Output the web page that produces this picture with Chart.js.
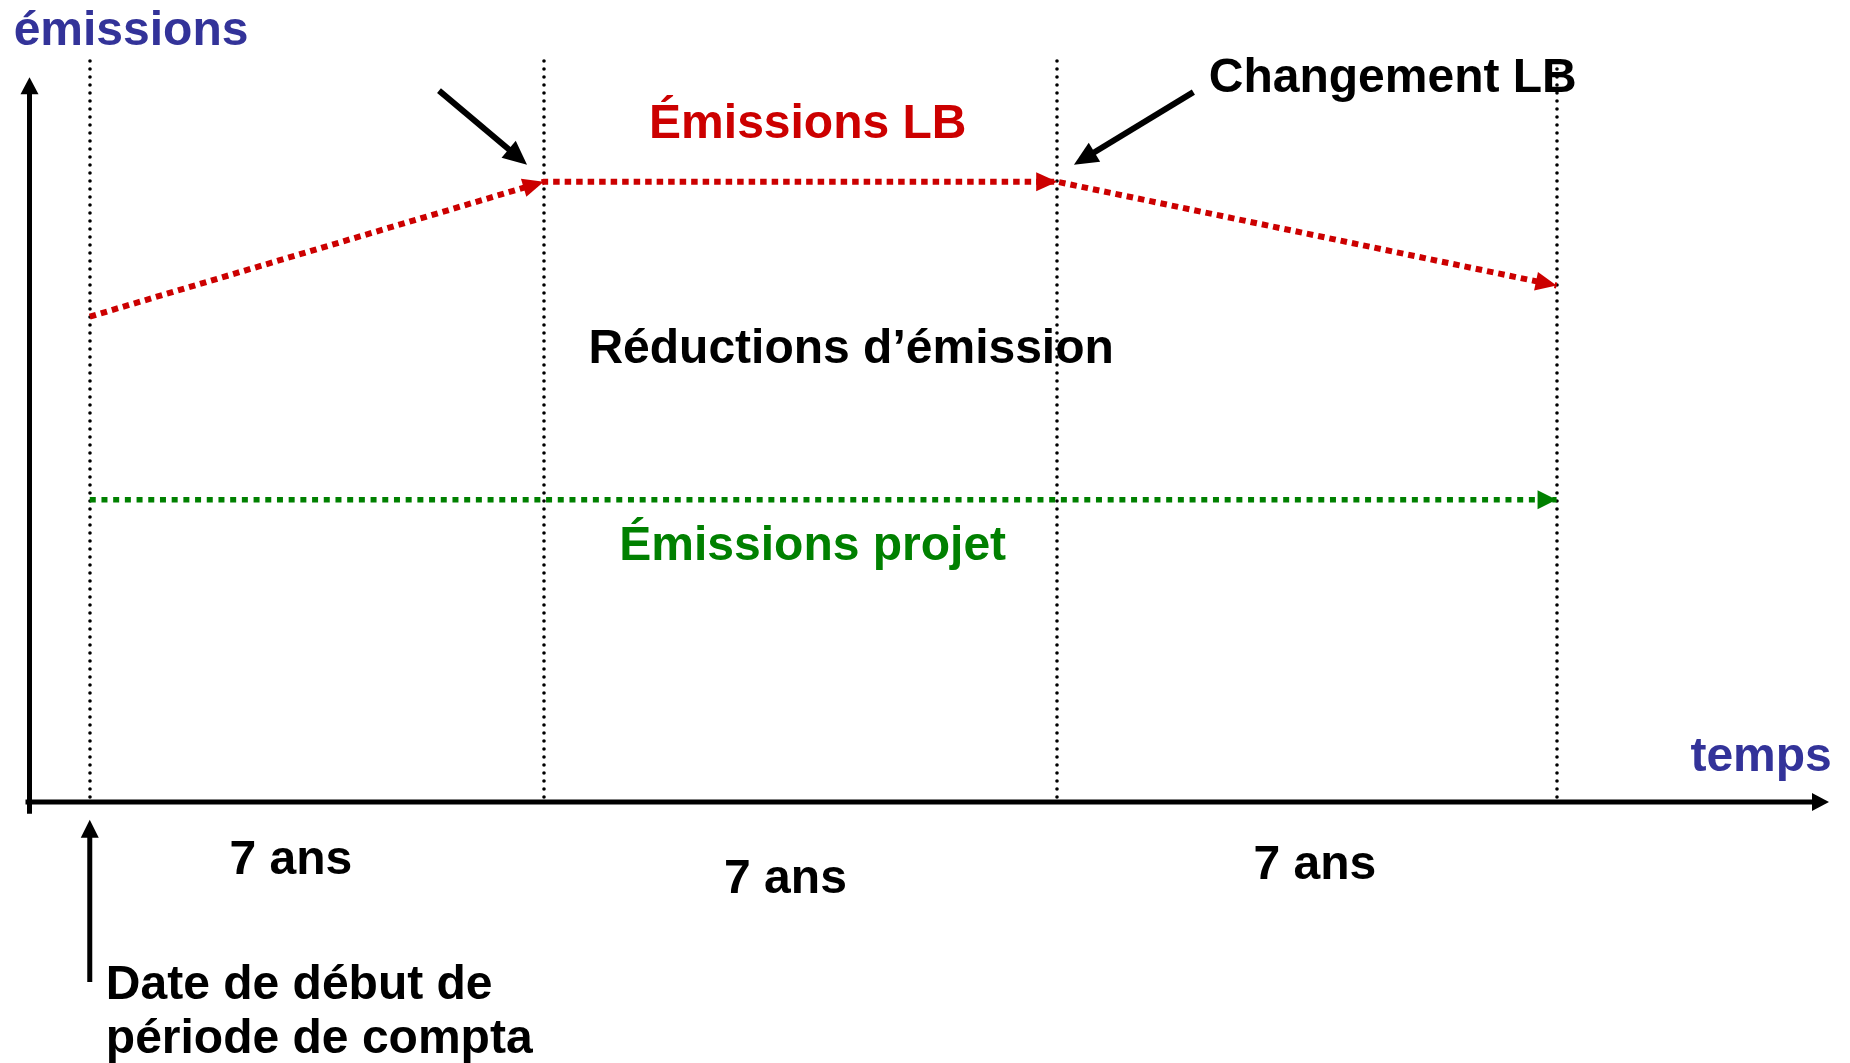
<!DOCTYPE html>
<html lang="fr">
<head>
<meta charset="utf-8">
<title>Émissions LB / projet</title>
<script src="https://cdn.jsdelivr.net/npm/chart.js@4.4.1/dist/chart.umd.min.js"></script>
<style>
  html, body { margin: 0; padding: 0; background: #fff; }
  #wrap { width: 1850px; height: 1063px; position: relative; }
</style>
</head>
<body>
<div id="wrap"><canvas id="chart"></canvas></div>
<script>
// --- données (unités du schéma : années sur x, émissions relatives sur y) ---
const periodEdges = [0, 6.5, 13.85, 21]            // bornes des périodes de comptabilisation
const baselineEmissions = [6.55, 8.37, 8.37, 6.97] // émissions LB à chaque borne
const projectX = [0, 21]
const projectEmissions = [4.08, 4.08]
const periodLabels = ['7 ans', '7 ans', '7 ans']

const BLUE = '#333399', RED = '#CC0000', GREEN = '#008000', BLACK = '#000'
const FONT = 'bold 48px "Liberation Sans", Arial, Helvetica, sans-serif'

// textes et flèches du schéma (positions en unités des axes)
const texts = [
  { t: 'émissions', x: -1.09, y: 10.22, c: BLUE, a: 'left' },
  { t: 'temps', x: 24.94, y: 0.42, c: BLUE, a: 'right' },
  { t: 'Émissions LB', x: 10.28, y: 8.96, c: RED, a: 'center' },
  { t: 'Changement LB', x: 16.02, y: 9.58, c: BLACK, a: 'left' },
  { t: 'Réductions d’émission', x: 10.9, y: 5.92, c: BLACK, a: 'center' },
  { t: 'Émissions projet', x: 10.35, y: 3.26, c: GREEN, a: 'center' },
  { t: periodLabels[0], x: 2.88, y: -0.97, c: BLACK, a: 'center' },
  { t: periodLabels[1], x: 9.96, y: -1.23, c: BLACK, a: 'center' },
  { t: periodLabels[2], x: 17.54, y: -1.04, c: BLACK, a: 'center' },
  { t: 'Date de début de', x: 0.23, y: -2.66, c: BLACK, a: 'left' },
  { t: 'période de compta', x: 0.23, y: -3.39, c: BLACK, a: 'left' },
]
const pointers = [
  { from: [5.0, 9.6], to: [6.26, 8.6], w: 6, len: 24, hw: 11 },
  { from: [15.8, 9.58], to: [14.09, 8.6], w: 6, len: 24, hw: 11 },
  { from: [0, -2.43], to: [0, -0.24], w: 5, len: 18, hw: 9 },
]

function head(ctx, x1, y1, x2, y2, len, hw, color) {
  const a = Math.atan2(y2 - y1, x2 - x1)
  ctx.save()
  ctx.translate(x2, y2); ctx.rotate(a)
  ctx.fillStyle = color
  ctx.beginPath(); ctx.moveTo(0, 0); ctx.lineTo(-len, -hw); ctx.lineTo(-len, hw); ctx.closePath(); ctx.fill()
  ctx.restore()
}

function arrow(ctx, x1, y1, x2, y2, w, len, hw, color) {
  const d = Math.hypot(x2 - x1, y2 - y1)
  const ex = x2 - (x2 - x1) / d * (len - 2), ey = y2 - (y2 - y1) / d * (len - 2)
  ctx.save()
  ctx.strokeStyle = color; ctx.lineWidth = w; ctx.setLineDash([])
  ctx.beginPath(); ctx.moveTo(x1, y1); ctx.lineTo(ex, ey); ctx.stroke()
  ctx.restore()
  head(ctx, x1, y1, x2, y2, len, hw, color)
}

const diagram = {
  id: 'diagram',
  beforeDatasetsDraw(chart) {
    const { ctx, chartArea: ca, scales: { x } } = chart
    ctx.save()
    ctx.strokeStyle = BLACK; ctx.lineWidth = 3.6; ctx.lineCap = 'round'
    ctx.setLineDash([0, 8])
    periodEdges.forEach(v => {
      const px = Math.round(x.getPixelForValue(v))
      ctx.beginPath(); ctx.moveTo(px, ca.top); ctx.lineTo(px, ca.bottom - 4); ctx.stroke()
    })
    ctx.restore()
  },
  afterDatasetsDraw(chart) {
    const { ctx, chartArea: ca, scales: { x, y } } = chart
    // pointes de flèche au bout de chaque segment
    chart.data.datasets.forEach((ds, i) => {
      const pts = chart.getDatasetMeta(i).data
      for (let k = 1; k < pts.length; k++) {
        if (i === 1 && k < pts.length - 1) continue
        head(ctx, pts[k - 1].x, pts[k - 1].y, pts[k].x, pts[k].y, i === 0 ? 21 : 19, 9.5, ds.borderColor)
      }
    })
    // axes
    const ox = x.getPixelForValue(-0.87) + 0.5, oy = y.getPixelForValue(0)
    arrow(ctx, ox, y.getPixelForValue(-0.16), ox, y.getPixelForValue(9.78), 5, 17, 9, BLACK)
    arrow(ctx, x.getPixelForValue(-0.92), oy, ca.right, oy, 5, 17, 9, BLACK)
    // flèches d'annotation
    pointers.forEach(p => arrow(ctx, x.getPixelForValue(p.from[0]), y.getPixelForValue(p.from[1]),
      x.getPixelForValue(p.to[0]), y.getPixelForValue(p.to[1]), p.w, p.len, p.hw, BLACK))
    // textes
    ctx.save()
    ctx.font = FONT; ctx.textBaseline = 'alphabetic'
    texts.forEach(o => {
      ctx.fillStyle = o.c; ctx.textAlign = o.a
      ctx.fillText(o.t, x.getPixelForValue(o.x), y.getPixelForValue(o.y))
    })
    ctx.restore()
  },
}

new Chart(document.getElementById('chart'), {
  type: 'line',
  data: {
    datasets: [
      {
        label: 'Émissions LB',
        data: periodEdges.map((v, i) => ({ x: v, y: baselineEmissions[i] })),
        borderColor: RED, borderWidth: 6, borderDash: [6.5, 5], borderCapStyle: 'butt',
        pointRadius: 0, tension: 0, fill: false,
      },
      {
        label: 'Émissions projet',
        data: projectX.map((v, i) => ({ x: v, y: projectEmissions[i] })),
        borderColor: GREEN, borderWidth: 5.5, borderDash: [6, 5.7], borderCapStyle: 'butt',
        pointRadius: 0, tension: 0, fill: false,
      },
    ],
  },
  options: {
    responsive: true, maintainAspectRatio: false, animation: false,
    layout: { padding: { left: 29, right: 21, top: 61, bottom: 261 } },
    scales: {
      x: { type: 'linear', min: -0.87, max: 24.9, display: false },
      y: { type: 'linear', min: 0, max: 10, display: false },
    },
    plugins: { legend: { display: false }, tooltip: { enabled: false } },
  },
  plugins: [diagram],
})
</script>
</body>
</html>
